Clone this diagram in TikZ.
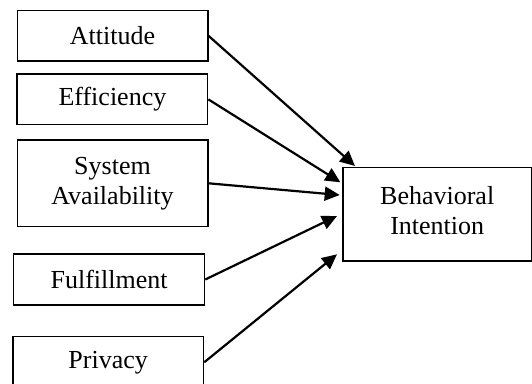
\documentclass[tikz,border=0pt]{standalone}
\usepackage{fontspec}
\setmainfont{Liberation Serif}
\usetikzlibrary{arrows.meta}
\begin{document}
\begin{tikzpicture}[x=1pt,y=-1pt,
  factor/.style={draw=black,line width=1.3pt,inner sep=0pt,align=center,
    font=\fontsize{26}{30}\selectfont},
  arr/.style={line width=2.2pt,-{Triangle[length=15pt,width=14pt]}}]
\useasboundingbox (0,0) rectangle (532,383);
\clip (0,0) rectangle (532,383);
% predictor boxes
\node[factor,minimum width=190.7pt,minimum height=50.3pt] (att) at (112.5,35.8) {Attitude};
\node[factor,minimum width=190.7pt,minimum height=50.7pt] (eff) at (112.4,99.4) {Efficiency};
\node[factor,minimum width=190.7pt,minimum height=86.7pt] (sys) at (112.5,183.3) {System\\Availability};
\node[factor,minimum width=191pt,minimum height=51pt] (ful) at (109.1,279.5) {Fulfillment};
\node[factor,minimum width=190.7pt,minimum height=51.3pt] (pri) at (108.2,362.3) {Privacy};
% outcome box
\node[factor,minimum width=188.3pt,minimum height=93.3pt] (bi) at (437.2,214.3) {};
\node[font=\fontsize{26}{30}\selectfont,align=center,inner sep=0pt] (bitext) at ([yshift=4pt]bi.center) {Behavioral\\Intention};
% paths
\draw[arr] (att.east) -- ([xshift=12.6pt,yshift=1pt]bi.north west);
\draw[arr] (eff.east) -- ([xshift=-2pt,yshift=-15.3pt]bi.north west);
\draw[arr] (sys.east) -- ([xshift=-2.7pt,yshift=-28pt]bi.north west);
\draw[arr] (ful.east) -- ([xshift=-5.4pt,yshift=-49pt]bi.north west);
\draw[arr] (pri.east) -- ([xshift=-5.4pt,yshift=-87.3pt]bi.north west);
\end{tikzpicture}
\end{document}
